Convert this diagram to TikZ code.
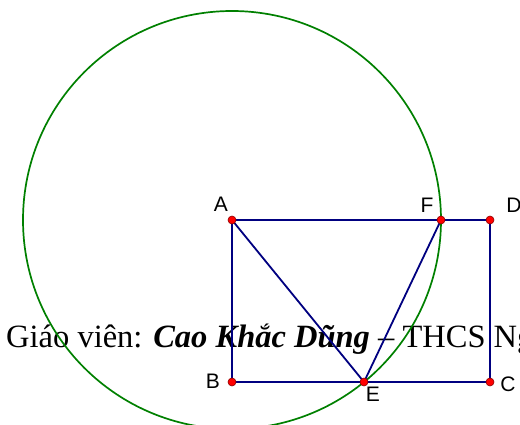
\documentclass[tikz,border=0pt]{standalone}
\usepackage{fontspec}
\setmainfont{Liberation Serif}
\newfontfamily\lblfont{Liberation Sans}
\usetikzlibrary{positioning}
\definecolor{navy}{RGB}{0,0,128}
\definecolor{dgreen}{RGB}{0,128,0}

\begin{document}
\begin{tikzpicture}[x=1pt, y=-1pt,
  seg/.style={draw=navy, line width=1.8pt},
  circ/.style={draw=dgreen, line width=1.7pt},
  dot/.style={circle, draw=red!55!black, fill=red, line width=0.6pt, inner sep=0pt, minimum size=8pt},
  lbl/.style={font=\lblfont\fontsize{21}{25}\selectfont, inner sep=0pt}]
\useasboundingbox (0,0) rectangle (520,425);
\clip (0,0) rectangle (520,425);
% points
\coordinate (A) at (232,220);
\coordinate (D) at (490,220);
\coordinate (B) at (232,382);
\coordinate (C) at (490,382);
\coordinate (F) at (441,220);
\coordinate (E) at (364,382);
% caption
\node[anchor=base west, inner sep=0pt, font=\fontsize{32.5}{38}\selectfont] (cap) at (6,347)
  {Giáo viên: \textbf{\textit{Cao Khắc Dũng}} – THCS Ng};
% circle centred at A through E and F
\draw[circ] (A) circle[radius=209];
% rectangle and triangle
\draw[seg] (A) -- (F) -- (D) -- (C) -- (E) -- (B) -- cycle;
\draw[seg] (A) -- (E) -- (F);
% dots
\foreach \p in {A,B,C,D,E,F}
  \node[dot] (d\p) at (\p) {};
% labels
\node[lbl] (lA) at ([shift={(-11,-16)}]A) {A};
\node[lbl] (lF) at ([shift={(-14,-15)}]F) {F};
\node[lbl] (lD) at ([shift={(24,-15)}]D) {D};
\node[lbl] (lB) at ([shift={(-19,-1)}]B) {B};
\node[lbl] (lC) at ([shift={(18,2)}]C) {C};
\node[lbl] (lE) at ([shift={(9,12)}]E) {E};
\end{tikzpicture}
\end{document}
